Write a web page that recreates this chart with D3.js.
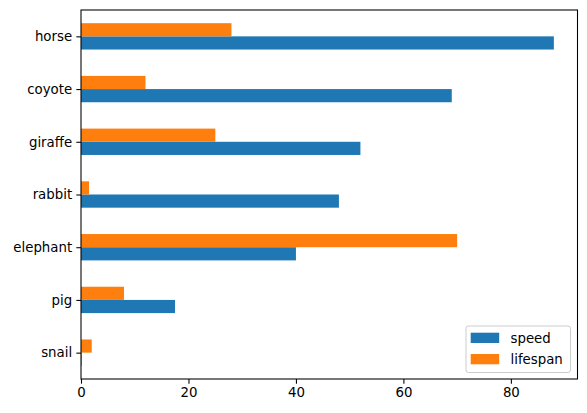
<!DOCTYPE html>
<html><head><meta charset="utf-8">
<script src="https://cdn.jsdelivr.net/npm/d3@7"></script>
<style>body{margin:0;background:#fff}svg{display:block}text{font-family:"DejaVu Sans",sans-serif;font-size:13.33px;fill:#000}</style>
</head><body><svg id="c" width="587" height="413"></svg>
<script>
const categories = ['snail','pig','elephant','rabbit','giraffe','coyote','horse'];
const speed = [0.1, 17.5, 40, 48, 52, 69, 88];
const lifespan = [2, 8, 70, 1.5, 25, 12, 28];
const seriesNames = ['speed','lifespan'];
const colors = ['#1f77b4','#ff7f0e'];
const xTicks = [0,20,40,60,80];

const L=81,R=577.5,T=10,B=379;
const svg=d3.select('#c');
const x=d3.scaleLinear().domain([0,92.4]).range([L,R]);
const y=d3.scaleLinear().domain([-0.5,6.5]).range([B,T]);
const bw=0.25;
const series=[speed,lifespan];
series.forEach((vals,si)=>{
  svg.append('g').selectAll('rect').data(vals).join('rect')
    .attr('x',x(0))
    .attr('width',d=>x(d)-x(0))
    .attr('y',(d,i)=>y(i+(si===0?0:bw)))
    .attr('height',y(0)-y(bw))
    .attr('fill',colors[si]);
});
// axes
const xa=svg.append('g').attr('transform',`translate(0,${B})`)
  .call(d3.axisBottom(x).tickValues(xTicks).tickFormat(d3.format('d')).tickSize(4.67).tickPadding(4.2));
const ya=svg.append('g').attr('transform',`translate(${L},0)`)
  .call(d3.axisLeft(y).tickValues(d3.range(categories.length)).tickFormat(i=>categories[i]).tickSize(4.67).tickPadding(4.2));
[xa,ya].forEach(a=>{a.select('.domain').remove();a.selectAll('line').attr('stroke','#000').attr('stroke-width',1.07);
  a.selectAll('text').attr('font-family','DejaVu Sans').attr('font-size','13.33px').attr('fill','#000');});
// frame
svg.append('rect').attr('x',L).attr('y',T).attr('width',R-L).attr('height',B-T)
  .attr('fill','none').attr('stroke','#000').attr('stroke-width',1.07);
// legend
const lg=svg.append('g');
lg.append('rect').attr('x',466).attr('y',326).attr('width',104.5).attr('height',46.5).attr('rx',2.5)
  .attr('fill','#fff').attr('fill-opacity',0.8).attr('stroke','#ccc').attr('stroke-width',1);
seriesNames.forEach((n,i)=>{
  const yy=332.7+i*21.3;
  lg.append('rect').attr('x',470.7).attr('y',yy).attr('width',28.5).attr('height',10.3).attr('fill',colors[i]);
  lg.append('text').attr('x',510.5).attr('y',yy+5.2).attr('dy','0.36em').text(n);
});
</script></body></html>
